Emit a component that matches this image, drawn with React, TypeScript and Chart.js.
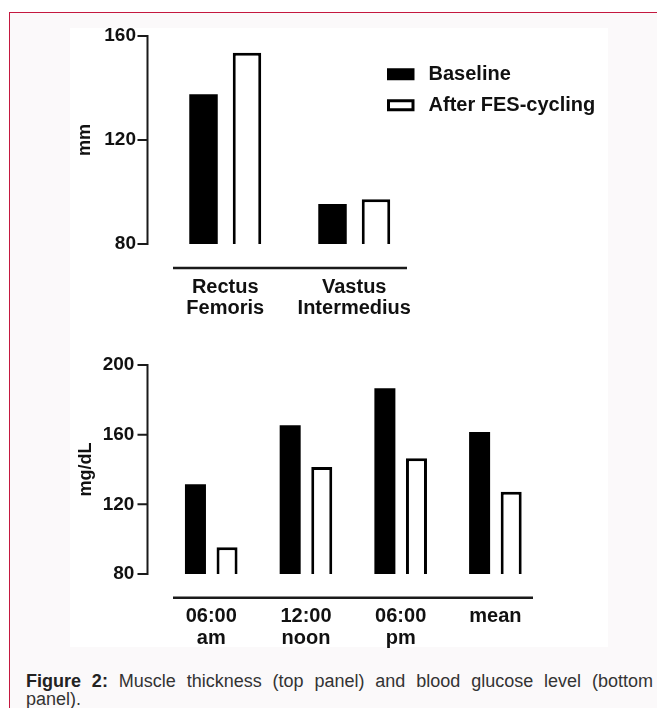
import React, { useEffect, useRef } from 'react';
import { Chart, registerables } from 'chart.js';

Chart.register(...registerables);

// ---------- data ----------
const SERIES_NAMES = ['Baseline', 'After FES-cycling'];

const MUSCLE_CATEGORIES = [['Rectus', 'Femoris'], ['Vastus', 'Intermedius']];
const MUSCLE_BASELINE = [137.6, 95.4];
const MUSCLE_AFTER = [153.6, 97.2];
const MUSCLE_TICKS = [80, 120, 160];
const MUSCLE_UNIT = 'mm';

const GLUCOSE_CATEGORIES = [['06:00', 'am'], ['12:00', 'noon'], ['06:00', 'pm'], ['mean']];
const GLUCOSE_BASELINE = [131.5, 165.4, 186.6, 161.5];
const GLUCOSE_AFTER = [95.3, 141.4, 146.4, 127.2];
const GLUCOSE_TICKS = [80, 120, 160, 200];
const GLUCOSE_UNIT = 'mg/dL';

const CAPTION_LABEL = 'Figure 2:';
const CAPTION_LINE1 = 'Muscle thickness (top panel) and blood glucose level (bottom';
const CAPTION_LINE2 = 'panel).';

// ---------- styling ----------
const FONT = "'Liberation Sans', Arial, Helvetica, sans-serif";
const INK = '#111111';

// Draws a detached y axis (line + tick marks) and a detached x baseline, Prism style
const detachedAxes = {
  id: 'detachedAxes',
  afterDraw(chart: any, _args: any, opts: any) {
    if (!opts || opts.yGap == null) return;
    const { ctx, chartArea } = chart;
    const y = chart.scales.y;
    ctx.save();
    ctx.strokeStyle = opts.color;
    ctx.lineCap = 'butt';
    const ax = chartArea.left - opts.yGap;
    const top = y.getPixelForValue(y.max);
    const bot = y.getPixelForValue(y.min);
    ctx.lineWidth = opts.yWidth;
    ctx.beginPath();
    ctx.moveTo(ax, top - opts.yWidth / 2);
    ctx.lineTo(ax, bot + opts.yWidth / 2);
    for (const t of y.ticks) {
      const py = y.getPixelForValue(t.value);
      ctx.moveTo(ax - opts.tickLength, py);
      ctx.lineTo(ax, py);
    }
    ctx.stroke();
    ctx.lineWidth = opts.xWidth;
    ctx.beginPath();
    const ly = chartArea.bottom + opts.xGap;
    ctx.moveTo(chartArea.left + opts.xInsetLeft, ly);
    ctx.lineTo(chartArea.right - opts.xInsetRight, ly);
    ctx.stroke();
    ctx.restore();
  },
};

// Places the (chartArea) legend at an offset from the plot area
const legendPlacer = {
  id: 'legendPlacer',
  afterLayout(chart: any, _args: any, opts: any) {
    const lg = chart.legend;
    if (!lg || !opts || opts.left == null) return;
    const w = lg.width;
    const h = lg.height;
    lg.left = chart.chartArea.left + opts.left;
    lg.top = chart.chartArea.top + opts.top;
    lg.right = lg.left + w + 40;
    lg.bottom = lg.top + Math.max(h, 80);
  },
};

type PanelGeom = {
  padTop: number;
  padRight: number;
  yWidth: number;
  xHeight: number;
  yLabelOffset: number;
  titlePad: number;
  xLabelOffset: number;
  labelLineHeight: number;
  yGap: number;
  xGap: number;
  xInsetLeft: number;
  xInsetRight: number;
  catPct: number;
  barPct: number;
};

function buildConfig(
  categories: string[][],
  baseline: number[],
  after: number[],
  ticks: number[],
  unit: string,
  g: PanelGeom,
  showLegend: boolean
): any {
  return {
    type: 'bar',
    data: {
      labels: categories,
      datasets: [
        {
          label: SERIES_NAMES[0],
          data: baseline,
          backgroundColor: '#000000',
          borderColor: '#000000',
          borderWidth: 0,
          borderSkipped: false,
          categoryPercentage: g.catPct,
          barPercentage: g.barPct,
        },
        {
          label: SERIES_NAMES[1],
          data: after,
          backgroundColor: '#ffffff',
          borderColor: '#000000',
          borderWidth: 3,
          borderSkipped: false,
          categoryPercentage: g.catPct,
          barPercentage: g.barPct,
        },
      ],
    },
    plugins: [detachedAxes, legendPlacer],
    options: {
      responsive: false,
      animation: false,
      events: [],
      layout: { padding: { left: 0, top: g.padTop, right: g.padRight, bottom: 0 } },
      scales: {
        x: {
          type: 'category',
          offset: true,
          grid: { display: false, drawTicks: true, tickLength: g.xLabelOffset - 3 },
          border: { display: false },
          ticks: {
            padding: 3,
            maxRotation: 0,
            autoSkip: false,
            color: INK,
            font: { family: FONT, size: 20, weight: 'bold', lineHeight: g.labelLineHeight },
          },
          afterFit: (s: any) => {
            s.height = g.xHeight;
          },
        },
        y: {
          type: 'linear',
          min: ticks[0],
          max: ticks[ticks.length - 1],
          afterBuildTicks: (s: any) => {
            s.ticks = ticks.map((v) => ({ value: v }));
          },
          grid: { display: false, drawTicks: true, tickLength: g.yLabelOffset - 3 },
          border: { display: false },
          ticks: {
            padding: 3,
            color: INK,
            font: { family: FONT, size: 19, weight: 'bold' },
          },
          title: {
            display: true,
            text: unit,
            color: INK,
            padding: { top: g.titlePad, bottom: 0 },
            font: { family: FONT, size: 18, weight: 'bold', lineHeight: 1.2 },
          },
          afterFit: (s: any) => {
            s.width = g.yWidth;
          },
        },
      },
      plugins: {
        tooltip: { enabled: false },
        legend: {
          display: showLegend,
          position: 'chartArea',
          align: 'start',
          labels: {
            boxWidth: 24.5,
            boxHeight: 9,
            padding: 11,
            color: INK,
            font: { family: FONT, size: 20, weight: 'bold', lineHeight: 1 },
            generateLabels: (chart: any) =>
              Chart.defaults.plugins.legend.labels
                .generateLabels(chart)
                .map((item: any) => ({ ...item, text: ' ' + item.text, lineWidth: 3, strokeStyle: '#000000' })),
          },
        },
        legendPlacer: showLegend ? { left: 216.75, top: 17.3 } : {},
        detachedAxes: {
          color: '#1a1a1a',
          yGap: g.yGap,
          yWidth: 2,
          tickLength: 10,
          xGap: g.xGap,
          xWidth: 2.5,
          xInsetLeft: g.xInsetLeft,
          xInsetRight: g.xInsetRight,
        },
      },
    },
  };
}

const TOP_GEOM: PanelGeom = {
  padTop: 20,
  padRight: 189.25,
  yWidth: 90.75,
  xHeight: 86,
  yLabelOffset: 24.75,
  titlePad: 4.2,
  xLabelOffset: 32.5,
  labelLineHeight: 1.05,
  yGap: 13.25,
  xGap: 24,
  xInsetLeft: 12.25,
  xInsetRight: 11.75,
  catPct: 0.674,
  barPct: 0.655,
};

const BOTTOM_GEOM: PanelGeom = {
  padTop: 20,
  padRight: 65.25,
  yWidth: 93.9,
  xHeight: 86,
  yLabelOffset: 29.5,
  titlePad: 5.2,
  xLabelOffset: 31,
  labelLineHeight: 1.1,
  yGap: 16.4,
  xGap: 23.7,
  xInsetLeft: 9.1,
  xInsetRight: 9.75,
  catPct: 0.667,
  barPct: 0.665,
};

function ChartCanvas(props: { build: () => any; width: number; height: number; left: number; top: number }) {
  const ref = useRef<HTMLCanvasElement | null>(null);
  useEffect(() => {
    if (!ref.current) return;
    const chart = new Chart(ref.current, props.build());
    return () => chart.destroy();
  }, []);
  return (
    <canvas
      ref={ref}
      width={props.width}
      height={props.height}
      style={{ position: 'absolute', left: props.left, top: props.top }}
    />
  );
}

export default function App() {
  return (
    <div
      style={{
        position: 'absolute',
        left: 0,
        top: 0,
        width: 657,
        height: 708,
        overflow: 'hidden',
        background: '#ffffff',
        fontFamily: FONT,
      }}
    >
      <div
        style={{
          position: 'absolute',
          left: 9,
          top: 12,
          width: 720,
          height: 800,
          background: '#fbf9fa',
          borderTop: '1.5px solid #c4183f',
          borderLeft: '1.5px solid #c4183f',
        }}
      />
      <div style={{ position: 'absolute', left: 70, top: 28, width: 538, height: 619, background: '#ffffff' }} />
      <ChartCanvas
        width={538}
        height={314}
        left={70}
        top={16}
        build={() => buildConfig(MUSCLE_CATEGORIES, MUSCLE_BASELINE, MUSCLE_AFTER, MUSCLE_TICKS, MUSCLE_UNIT, TOP_GEOM, true)}
      />
      <ChartCanvas
        width={538}
        height={315}
        left={70}
        top={345}
        build={() =>
          buildConfig(GLUCOSE_CATEGORIES, GLUCOSE_BASELINE, GLUCOSE_AFTER, GLUCOSE_TICKS, GLUCOSE_UNIT, BOTTOM_GEOM, false)
        }
      />
      <div
        style={{
          position: 'absolute',
          left: 26,
          top: 672,
          width: 627,
          fontSize: 18,
          lineHeight: '18px',
          color: '#333333',
        }}
      >
        <div style={{ textAlign: 'justify', textAlignLast: 'justify', whiteSpace: 'normal' }}>
          <b style={{ color: '#222222' }}>{CAPTION_LABEL}</b> {CAPTION_LINE1}
        </div>
        <div>{CAPTION_LINE2}</div>
      </div>
    </div>
  );
}
